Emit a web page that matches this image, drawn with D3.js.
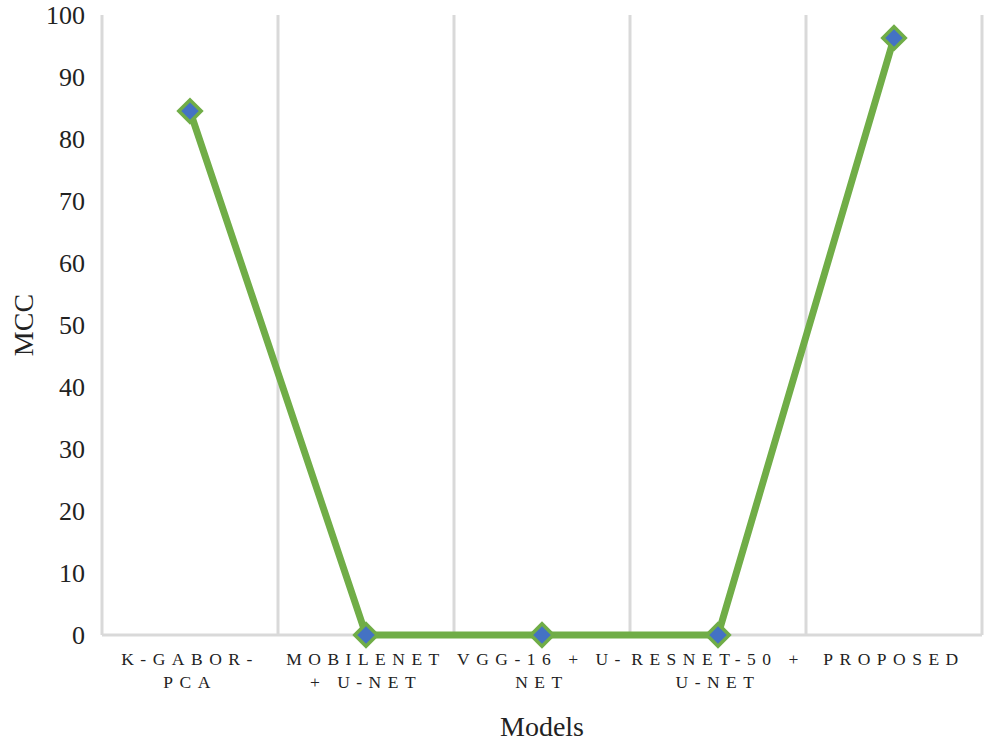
<!DOCTYPE html>
<html>
<head>
<meta charset="utf-8">
<script src="https://cdn.jsdelivr.net/npm/d3@7"></script>
<style>
  body { margin: 0; background: #fff; }
  text { font-family: "Liberation Serif", "Times New Roman", serif; fill: #222; }
</style>
</head>
<body>
<div id="chart"></div>
<script>
var categories = ["K-GABOR-PCA", "MOBILENET + U-NET", "VGG-16 + U-NET", "RESNET-50 + U-NET", "PROPOSED"];
var tickLines = [["K-GABOR-", "PCA"], ["MOBILENET", "+ U-NET"], ["VGG-16 + U-", "NET"], ["RESNET-50 +", "U-NET"], ["PROPOSED"]];
var mcc = [84.5, 0, 0, 0, 96.3];
var yTicks = [0, 10, 20, 30, 40, 50, 60, 70, 80, 90, 100];

var margin = {top: 15, right: 3, bottom: 107, left: 102}
    , width = 985 - margin.left - margin.right
    , height = 742 - margin.top - margin.bottom;

var svg = d3.select("#chart").append("svg")
    .attr("width", 985)
    .attr("height", 742)
  .append("g")
    .attr("transform", "translate(" + margin.left + "," + margin.top + ")");

var x = d3.scaleBand().domain(categories).range([0, width]).padding(0);
var y = d3.scaleLinear().domain([0, 100]).range([height, 0]);

// vertical gridlines at the category boundaries
svg.selectAll(".grid")
    .data(categories.concat([null]))
    .enter().append("line")
    .attr("x1", function (d, i) { return i * x.bandwidth(); })
    .attr("x2", function (d, i) { return i * x.bandwidth(); })
    .attr("y1", 0)
    .attr("y2", height)
    .style("stroke", "#d9d9d9")
    .style("stroke-width", 3);

// baseline
svg.append("line")
    .attr("x1", 0).attr("x2", width)
    .attr("y1", y(0)).attr("y2", y(0))
    .style("stroke", "#d9d9d9")
    .style("stroke-width", 3);

// y axis labels
var yAxis = svg.append("g")
    .call(d3.axisLeft(y).tickValues(yTicks).tickSize(0).tickPadding(17));
yAxis.select(".domain").remove();
yAxis.selectAll("text")
    .style("font-size", "26px")
    .style("font-family", "Liberation Serif, serif")
    .attr("fill", "#222");

// x tick labels, wrapped and letter-spaced
var xl = svg.selectAll(".xlab")
    .data(categories)
    .enter().append("text")
    .attr("text-anchor", "middle")
    .style("font-size", "17.5px")
    .style("letter-spacing", "6.5px")
    .attr("transform", function (d) {
        return "translate(" + (x(d) + x.bandwidth() / 2) + "," + (height + 30) + ")";
    });
xl.selectAll("tspan")
    .data(function (d, i) { return tickLines[i]; })
    .enter().append("tspan")
    .attr("x", 0)
    .attr("dy", function (d, i) { return i === 0 ? 0 : 23; })
    .text(function (d) { return d; });

// line
var line = d3.line()
    .x(function (d, i) { return x(categories[i]) + x.bandwidth() / 2; })
    .y(function (d) { return y(d); });

svg.append("path")
    .datum(mcc)
    .attr("d", line)
    .style("fill", "none")
    .style("stroke", "#70ad47")
    .style("stroke-width", 7)
    .style("stroke-linejoin", "round");

// diamond markers
svg.selectAll(".pt")
    .data(mcc)
    .enter().append("path")
    .attr("d", d3.symbol().type(d3.symbolDiamond2).size(320))
    .attr("transform", function (d, i) {
        return "translate(" + (x(categories[i]) + x.bandwidth() / 2) + "," + y(d) + ")";
    })
    .style("fill", "#4472c4")
    .style("stroke", "#70ad47")
    .style("stroke-width", 3.5);

// axis titles
svg.append("text")
    .attr("x", width / 2)
    .attr("y", height + 101)
    .attr("text-anchor", "middle")
    .style("font-size", "28px")
    .text("Models");

svg.append("text")
    .attr("transform", "translate(" + (-margin.left + 33) + "," + (height / 2) + ") rotate(-90)")
    .attr("text-anchor", "middle")
    .style("font-size", "28px")
    .text("MCC");
</script>
</body>
</html>
